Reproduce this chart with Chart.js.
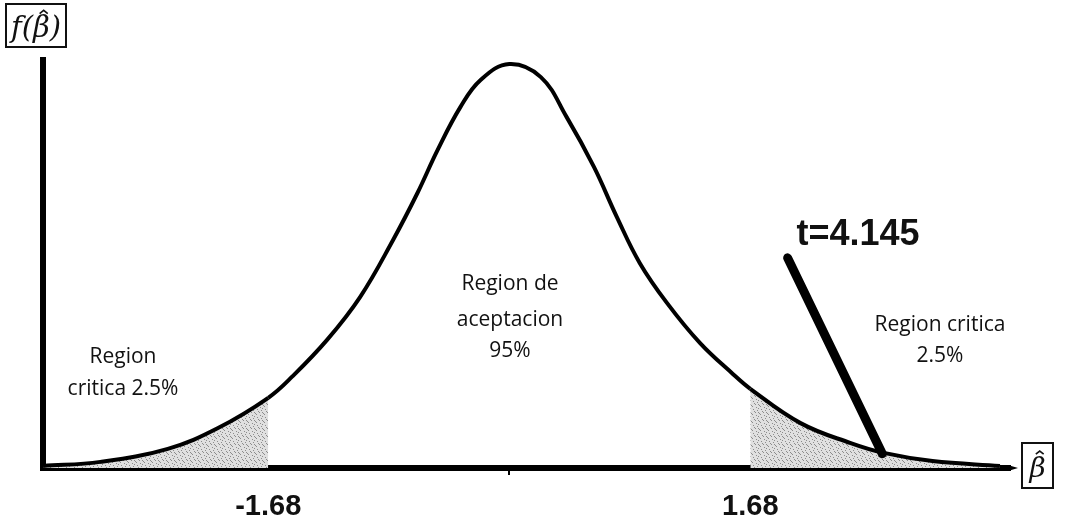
<!DOCTYPE html>
<html>
<head>
<meta charset="utf-8">
<script src="https://cdn.jsdelivr.net/npm/chart.js@4.4.1/dist/chart.umd.min.js"></script>
<style>
html, body { margin: 0; padding: 0; background: #fff; }
#wrap { width: 1070px; height: 523px; position: relative; }
</style>
</head>
<body>
<div id="wrap"><canvas id="chart"></canvas></div>
<script>
// bell curve (x in t units, y = relative height)
const curveX = [-3.25, -2.85, -2.38, -2.03, -1.68, -1.51, -1.27, -1.04, -0.81, -0.64, -0.50, -0.34, -0.20, 0,
                0.22, 0.40, 0.59, 0.75, 0.91, 1.10, 1.33, 1.56, 1.68, 2.03, 2.38, 2.61, 2.95, 3.42];
const curveY = [0.005, 0.015, 0.047, 0.098, 0.172, 0.225, 0.314, 0.419, 0.559, 0.674, 0.779, 0.885, 0.951, 0.990,
                0.958, 0.860, 0.738, 0.615, 0.502, 0.404, 0.306, 0.230, 0.194, 0.110, 0.061, 0.037, 0.017, 0.005];

const criticalValue = 1.68;
const xTicks = [-1.68, 0, 1.68];
const xTickLabels = ['-1.68', '', '1.68'];

// the thick pointer drawn towards t=4.145
const tLineX = [1.94, 2.60];
const tLineY = [0.515, 0.035];

const curvePts = curveX.map((x, i) => ({ x: x, y: curveY[i] }));
const tLinePts = tLineX.map((x, i) => ({ x: x, y: tLineY[i] }));

// stippled grey like the scan
function stipple() {
    const c = document.createElement('canvas');
    c.width = 8; c.height = 8;
    const g = c.getContext('2d');
    g.fillStyle = '#e0e0e0';
    g.fillRect(0, 0, 8, 8);
    g.fillStyle = '#8c8c8c';
    [[1,1],[5,2],[3,4],[7,5],[0,6],[4,7],[6,0],[2,3],[6,4]].forEach(([a, b]) => g.fillRect(a, b, 1, 1));
    return g.createPattern(c, 'repeat');
}
const shade = stipple();

function inTail(c) {
    return c.p1.parsed.x <= -criticalValue + 1e-9 || c.p0.parsed.x >= criticalValue - 1e-9;
}

// boxed axis names; the hat over beta is drawn as a small stroke
function boxed(ctx, x, y, w, h, before, after, size) {
    ctx.save();
    ctx.strokeStyle = '#111';
    ctx.lineWidth = 2;
    ctx.strokeRect(x, y, w, h);
    ctx.fillStyle = '#111';
    ctx.font = 'italic ' + size + 'px "DejaVu Serif"';
    ctx.textBaseline = 'middle';
    ctx.textAlign = 'left';
    const text = before + 'β' + after;
    const total = ctx.measureText(text).width;
    const x0 = x + (w - total) / 2;
    const cy = y + h / 2 + 4;
    ctx.fillText(text, x0, cy);
    const bx = x0 + ctx.measureText(before).width;
    const bw = ctx.measureText('β').width;
    const hx = bx + bw / 2 + size * 0.08;
    const hy = cy - size * 0.62;
    ctx.lineWidth = 1.6;
    ctx.beginPath();
    ctx.moveTo(hx - size * 0.14, hy + size * 0.07);
    ctx.lineTo(hx, hy - size * 0.04);
    ctx.lineTo(hx + size * 0.14, hy + size * 0.07);
    ctx.stroke();
    ctx.restore();
}

const labelsPlugin = {
    id: 'labels',
    afterDraw(chart) {
        const ctx = chart.ctx;
        const area = chart.chartArea;
        ctx.save();

        // arrow point at end of x axis
        ctx.fillStyle = '#000';
        ctx.beginPath();
        ctx.moveTo(area.right - 2, area.bottom - 3);
        ctx.lineTo(area.right + 8, area.bottom);
        ctx.lineTo(area.right - 2, area.bottom + 3);
        ctx.closePath();
        ctx.fill();

        ctx.fillStyle = '#111';
        ctx.textAlign = 'center';
        ctx.textBaseline = 'middle';
        ctx.font = '21px "Open Sans"';
        ctx.fillText('Region de', 510, 284);
        ctx.fillText('aceptacion', 510, 320);
        ctx.fillText('95%', 510, 351);

        ctx.fillText('Region', 123, 357);
        ctx.fillText('critica 2.5%', 123, 389);

        ctx.fillText('Region critica', 940, 325);
        ctx.fillText('2.5%', 940, 356);

        ctx.font = 'bold 36px "Liberation Sans", Arial';
        ctx.fillText('t=4.145', 858, 235);
        ctx.restore();

        boxed(ctx, 6, 4, 60, 43, 'f(', ')', 29);
        boxed(ctx, 1022, 443, 31, 45, '', '', 28);
    }
};

new Chart(document.getElementById('chart'), {
    type: 'scatter',
    data: {
        datasets: [
            {
                data: tLinePts, showLine: true, borderColor: '#000', borderWidth: 9,
                borderCapStyle: 'round', pointRadius: 0, order: 0
            },
            {
                data: curvePts, showLine: true, borderColor: '#000', borderWidth: 4,
                tension: 0.4, pointRadius: 0, order: 1,
                fill: 'origin', backgroundColor: 'rgba(0,0,0,0)',
                segment: { backgroundColor: c => inTail(c) ? shade : 'rgba(0,0,0,0)' }
            }
        ]
    },
    options: {
        responsive: true,
        maintainAspectRatio: false,
        animation: false,
        layout: { padding: { left: 43, right: 60, top: 60, bottom: 0 } },
        plugins: { legend: { display: false }, tooltip: { enabled: false } },
        scales: {
            x: {
                type: 'linear', min: -3.25, max: 3.49,
                afterBuildTicks: s => { s.ticks = xTicks.map(v => ({ value: v })); },
                afterFit: s => { s.height = 55; },
                border: { display: true, color: '#000', width: 6 },
                grid: {
                    display: true, drawOnChartArea: false, drawTicks: true, tickLength: 7, lineWidth: 2,
                    color: c => (c.tick && c.tick.value === 0) ? '#000' : 'rgba(0,0,0,0)'
                },
                ticks: {
                    padding: 15, color: '#111',
                    font: { family: '"Liberation Sans", Arial', size: 29, weight: 'bold' },
                    callback: (v, i) => xTickLabels[i]
                }
            },
            y: {
                type: 'linear', min: 0, max: 1,
                afterFit: s => { s.width = 0; },
                border: { display: true, color: '#000', width: 6 },
                grid: { display: false },
                ticks: { display: false }
            }
        }
    },
    plugins: [labelsPlugin]
});
</script>
</body>
</html>
